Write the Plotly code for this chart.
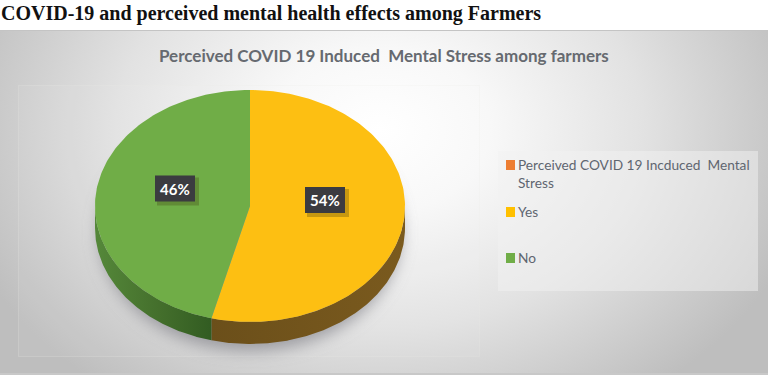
import base64
import numpy as np
import plotly.graph_objects as go

page_title = "COVID-19 and perceived mental health effects among Farmers"
chart_title = "Perceived COVID 19 Induced  Mental Stress among farmers"
categories = ["Yes", "No"]
values = [54, 46]
labels = ["54%", "46%"]
legend_items = ["Perceived COVID 19 Incduced  Mental<br>Stress", "Yes", "No"]
legend_colors = ["#ED7D31", "#FFC000", "#70AD47"]
slice_colors = ["#FDBF12", "#70AD47"]

W, H = 768, 375
CX, CY, RX, RY, DEPTH = 250, 206, 155, 116, 22

svg = f'''<svg xmlns="http://www.w3.org/2000/svg" width="{W}" height="{H}" viewBox="0 0 {W} {H}">
<defs>
<radialGradient id="g" gradientUnits="userSpaceOnUse" cx="0" cy="0" r="1" gradientTransform="translate(380 130) scale(440 330)">
<stop offset="0" stop-color="#ffffff"/><stop offset="0.25" stop-color="#f8f8f8"/><stop offset="0.6" stop-color="#e2e2e2"/><stop offset="1" stop-color="#bebebe"/>
</radialGradient>
<filter id="b" x="-20%" y="-20%" width="140%" height="140%"><feGaussianBlur stdDeviation="8"/></filter>
</defs>
<rect width="{W}" height="{H}" fill="#fff"/>
<rect x="0" y="30" width="{W}" height="345" fill="url(#g)"/>
<rect x="0" y="30" width="{W}" height="1" fill="#c4c4c4"/>
<rect x="0" y="373" width="{W}" height="2" fill="#c8c8c8"/>
<rect x="18.5" y="85.5" width="461" height="271" fill="#ffffff" fill-opacity="0.05" stroke="#ecece8" stroke-opacity="0.22"/>
<ellipse cx="{CX}" cy="{CY+26}" rx="{RX-4}" ry="{RY+3}" fill="#86868c" fill-opacity="0.75" filter="url(#b)"/>
<rect x="498" y="151" width="260" height="140" fill="#f2f2f2" fill-opacity="0.5"/>
</svg>'''
bg = "data:image/svg+xml;base64," + base64.b64encode(svg.encode()).decode()


def arc(a0, a1, n=160):
    t = np.linspace(a0, a1, n)
    return CX + RX * np.sin(t), CY - RY * np.cos(t)


fig = go.Figure()

shares = np.array(values) / sum(values)
edges = np.concatenate([[0], np.cumsum(shares)]) * 2 * np.pi

# Side wall of the disc: only the part of each slice facing the viewer
side_scales = [
    [[0, "#6B4F1A"], [1, "#7A5A1E"]],
    [[0, "#55883A"], [0.55, "#446F2C"], [1, "#325C22"]],
]
for i in range(len(values)):
    a0, a1 = max(edges[i], np.pi / 2), min(edges[i + 1], 3 * np.pi / 2)
    if a1 <= a0:
        continue
    x, y = arc(a0, a1)
    fig.add_trace(go.Scatter(
        x=np.r_[x, x[::-1]], y=np.r_[y, y[::-1] + DEPTH],
        mode="lines", line=dict(width=0), fill="toself",
        fillgradient=dict(type="horizontal", colorscale=side_scales[i]),
        hoverinfo="skip", showlegend=False))

# Top face of the disc
for i, cat in enumerate(categories):
    x, y = arc(edges[i], edges[i + 1])
    fig.add_trace(go.Scatter(
        x=np.r_[CX, x, CX], y=np.r_[CY, y, CY],
        mode="lines", line=dict(width=0), fill="toself",
        fillcolor=slice_colors[i], name=cat, showlegend=False))

annotations = [
    dict(x=0, y=0.5, xanchor="left", yanchor="top", borderpad=0, text=f"<b>{page_title}</b>",
         font=dict(family="Liberation Serif", size=20, color="#111111")),
    dict(x=384, y=55, xanchor="center", yanchor="middle", text=f"<b>{chart_title}</b>",
         font=dict(family="Lato", size=17, color="#666a70")),
]

label_pos = [(325, 200), (175, 188.5)]
shapes = []
for (lx, ly), txt in zip(label_pos, labels):
    shapes.append(dict(type="rect", x0=lx - 18, x1=lx + 24, y0=ly - 11, y1=ly + 17,
                       fillcolor="rgba(60,50,10,0.28)", line_width=0, layer="above"))
    shapes.append(dict(type="rect", x0=lx - 20, x1=lx + 20, y0=ly - 13, y1=ly + 13,
                       fillcolor="#3b3b40", line_width=0, layer="above"))
    annotations.append(dict(x=lx, y=ly, text=f"<b>{txt}</b>", showarrow=False,
                            font=dict(family="Lato", size=15, color="#ffffff")))

legend_y = [165, 212, 258]
for yy, item, col in zip(legend_y, legend_items, legend_colors):
    shapes.append(dict(type="rect", x0=506, x1=515, y0=yy - 5, y1=yy + 5,
                       fillcolor=col, line_width=0, layer="above"))
    annotations.append(dict(x=516, y=yy - 11, xanchor="left", yanchor="top", align="left",
                            text=item,
                            font=dict(family="Lato", size=13.7, color="#5f6670")))

for a in annotations:
    a.setdefault("showarrow", False)

fig.update_layout(
    width=W, height=H, margin=dict(l=0, r=0, t=0, b=0),
    paper_bgcolor="#ffffff", plot_bgcolor="rgba(0,0,0,0)", showlegend=False,
    xaxis=dict(range=[0, W], visible=False, fixedrange=True),
    yaxis=dict(range=[H, 0], visible=False, fixedrange=True),
    images=[dict(source=bg, xref="paper", yref="paper", x=0, y=1, sizex=1, sizey=1,
                 sizing="stretch", xanchor="left", yanchor="top", layer="below")],
    annotations=annotations, shapes=shapes,
)
fig.write_html("out.html", config=dict(displayModeBar=False),
               post_script="document.body.style.margin='0';document.body.style.overflow='hidden';")
